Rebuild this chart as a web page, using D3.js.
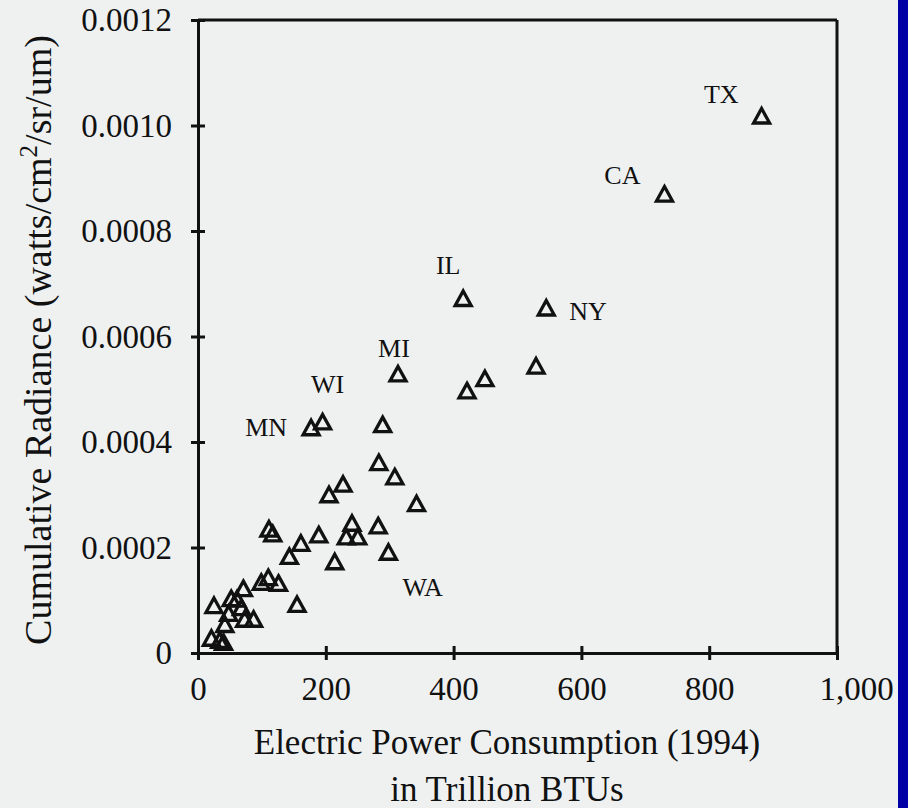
<!DOCTYPE html>
<html>
<head>
<meta charset="utf-8">
<script src="https://cdn.jsdelivr.net/npm/d3@7"></script>
<style>
  html, body { margin: 0; padding: 0; background: #eff1f1; }
  svg { display: block; }
</style>
</head>
<body>
<svg id="chart" width="908" height="808"></svg>
<script>
// Electric power consumption (1994, trillion BTUs) vs. cumulative night-time radiance per state
const consumption = [882, 730, 415, 545, 529, 313, 449, 421, 195, 177,
                     289, 283, 308, 227, 205, 342, 241, 282, 111, 117,
                     232, 250, 189, 161, 298, 214, 143, 155, 99, 126,
                     110, 71, 61, 68, 25, 48, 73, 87, 42, 21, 34, 40, 52];
const radiance = [0.001018, 0.000870, 0.000672, 0.000654, 0.000544, 0.000529, 0.000520, 0.000497, 0.000438, 0.000427,
                  0.000433, 0.000361, 0.000334, 0.000320, 0.000300, 0.000283, 0.000246, 0.000241, 0.000235, 0.000226,
                  0.000220, 0.000220, 0.000224, 0.000208, 0.000191, 0.000173, 0.000183, 0.000092, 0.000134, 0.000132,
                  0.000143, 0.000122, 0.000102, 0.000086, 0.000090, 0.000075, 0.000064, 0.000064, 0.000054, 0.000028,
                  0.000024, 0.000020, 0.000103];
const stateCodes = ["TX", "CA", "IL", "NY", "", "MI", "", "", "WI", "MN",
                    "", "", "", "", "", "", "", "", "", "",
                    "", "", "", "", "WA", "", "", "", "", "",
                    "", "", "", "", "", "", "", "", "", "",
                    "", "", ""];
const xTicks = [0, 200, 400, 600, 800, 1000];
const yTicks = [0, 0.0002, 0.0004, 0.0006, 0.0008, 0.0010, 0.0012];
const xTitleLines = ["Electric Power Consumption (1994)", "in Trillion BTUs"];

const W = 908, H = 808;
const serif = "'Liberation Serif', 'Times New Roman', serif";
const ink = "#111";

const svg = d3.select("#chart");
svg.append("rect").attr("width", W).attr("height", H).attr("fill", "#eff1f1");
svg.append("rect").attr("x", 898).attr("y", 0).attr("width", W - 898).attr("height", H).attr("fill", "#0000a6");

const x = d3.scaleLinear().domain([0, 1000]).range([198, 837]);
const y = d3.scaleLinear().domain([0, 0.0012]).range([653, 20]);

function styleAxis(g) {
  g.attr("font-size", null).attr("font-family", null);
  g.selectAll("path.domain").attr("stroke", ink).attr("stroke-width", 3);
  g.selectAll(".tick line").attr("stroke", ink).attr("stroke-width", 3);
  g.selectAll(".tick text").attr("fill", ink).attr("font-family", serif).attr("font-size", 33);
}

// bottom axis with ticks crossing the line
const gx = svg.append("g").attr("transform", `translate(0,${y(0)})`)
  .call(d3.axisBottom(x).tickValues(xTicks).tickSize(7).tickSizeOuter(0).tickPadding(17).tickFormat(d3.format(",")));
styleAxis(gx);
gx.selectAll(".tick text").filter(d => d === 1000).attr("dx", 19);
const gxIn = svg.append("g").attr("transform", `translate(0,${y(0)})`)
  .call(d3.axisTop(x).tickValues(xTicks).tickSize(7).tickSizeOuter(0).tickFormat(""));
styleAxis(gxIn);

// left axis with ticks crossing the line
const gy = svg.append("g").attr("transform", `translate(${x(0)},0)`)
  .call(d3.axisLeft(y).tickValues(yTicks).tickSize(7).tickSizeOuter(0).tickPadding(19)
    .tickFormat(d => d === 0 ? "0" : d.toFixed(4)));
styleAxis(gy);
const gyIn = svg.append("g").attr("transform", `translate(${x(0)},0)`)
  .call(d3.axisRight(y).tickValues(yTicks).tickSize(7).tickSizeOuter(0).tickFormat(""));
styleAxis(gyIn);

// top and right frame
svg.append("line").attr("x1", x(0)).attr("x2", x(1000)).attr("y1", y(0.0012)).attr("y2", y(0.0012))
  .attr("stroke", ink).attr("stroke-width", 3);
svg.append("line").attr("x1", x(1000)).attr("x2", x(1000)).attr("y1", y(0.0012)).attr("y2", y(0))
  .attr("stroke", ink).attr("stroke-width", 3);

// axis titles
const xt = svg.append("text").attr("font-family", serif).attr("font-size", 35).attr("fill", ink)
  .attr("text-anchor", "middle");
xt.append("tspan").attr("x", 507).attr("y", 754).text(xTitleLines[0]);
xt.append("tspan").attr("x", 507).attr("y", 801).text(xTitleLines[1]);

const yt = svg.append("text").attr("font-family", serif).attr("font-size", 38).attr("fill", ink)
  .attr("text-anchor", "middle").attr("transform", "translate(51,340) rotate(-90)");
yt.append("tspan").text("Cumulative Radiance (watts/cm");
yt.append("tspan").attr("font-size", 25).attr("dy", -14).text("2");
yt.append("tspan").attr("dy", 14).text("/sr/um)");

// open triangle markers
const tri = "M0,-7.5L8,7L-8,7Z";
const points = consumption.map((c, i) => ({ c, r: radiance[i], s: stateCodes[i] }));
svg.append("g").selectAll("path").data(points).join("path")
  .attr("d", tri)
  .attr("transform", d => `translate(${x(d.c)},${y(d.r)})`)
  .attr("fill", "none").attr("stroke", ink).attr("stroke-width", 3.3).attr("stroke-linejoin", "miter");

// state labels placed around their markers
const labelPlacement = {
  TX: { anchor: "end", dx: -23, dy: -13 },
  CA: { anchor: "end", dx: -24, dy: -10 },
  IL: { anchor: "middle", dx: -15, dy: -25 },
  NY: { anchor: "start", dx: 23, dy: 12 },
  MI: { anchor: "middle", dx: -4, dy: -17 },
  WI: { anchor: "middle", dx: 5, dy: -29 },
  MN: { anchor: "end", dx: -24, dy: 8 },
  WA: { anchor: "start", dx: 14, dy: 44 }
};
svg.append("g").selectAll("text").data(points.filter(p => p.s)).join("text")
  .attr("x", d => x(d.c) + labelPlacement[d.s].dx)
  .attr("y", d => y(d.r) + labelPlacement[d.s].dy)
  .attr("text-anchor", d => labelPlacement[d.s].anchor)
  .attr("font-family", serif).attr("font-size", 26).attr("fill", ink)
  .text(d => d.s);
</script>
</body>
</html>
